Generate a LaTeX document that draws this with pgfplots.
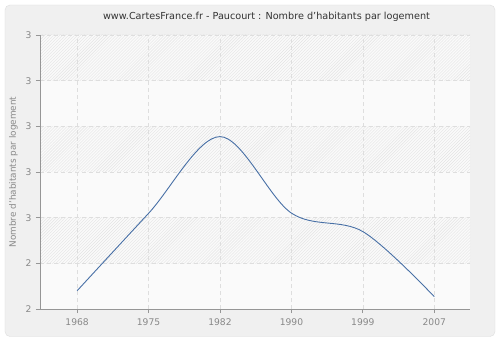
\documentclass[border=0pt]{standalone}
\usepackage{pgfplots}
\pgfplotsset{compat=1.18}
\usepackage{fontspec}
\setmainfont{DejaVu Sans}
\usetikzlibrary{patterns}
\definecolor{panel}{RGB}{240,240,240}
\definecolor{panelborder}{RGB}{222,222,222}
\definecolor{plotbg}{RGB}{250,250,250}
\definecolor{hatch}{RGB}{228,228,228}
\definecolor{gridc}{RGB}{222,222,222}
\definecolor{axisc}{RGB}{150,150,150}
\definecolor{tickc}{RGB}{136,136,136}
\definecolor{linec}{RGB}{72,112,166}
\begin{document}
\begin{tikzpicture}
% background (axis box spans (0,0) to (430bp,274bp))
\fill[white] (-40bp,-31bp) rectangle (460bp,309bp);
\filldraw[fill=panel, draw=panelborder, rounded corners=5bp] (-35bp,-27.5bp) rectangle (455bp,304bp);
\fill[plotbg] (0bp,0bp) rectangle (430bp,274bp);
\foreach \i in {1,3,5} {
  \fill[pattern=north east lines, pattern color=hatch] (0bp,{\i*274/6*1bp}) rectangle (430bp,{(\i+1)*274/6*1bp});
}
\node[text=black!80, font=\fontsize{9.7}{11}\selectfont] at (226.5bp,292bp) {www.CartesFrance.fr - Paucourt : Nombre d'habitants par logement};
\node[text=tickc, rotate=90, font=\fontsize{8.9}{10}\selectfont] at (-26.5bp,137bp) {Nombre d'habitants par logement};
\begin{axis}[
  at={(0,0)}, anchor=south west,
  scale only axis, width=430bp, height=274bp,
  xmin=-0.52, xmax=5.5,
  ymin=2.2, ymax=3.4,
  xtick={0,1,2,3,4,5},
  xticklabels={1968,1975,1982,1990,1999,2007},
  ytick={2.2,2.4,2.6,2.8,3.0,3.2,3.4},
  yticklabels={2,2,3,3,3,3,3},
  axis x line*=bottom, axis y line*=left,
  axis line style={axisc, line width=0.8bp},
  tick style={axisc, line width=0.8bp},
  tick align=outside,
  major tick length=4bp,
  grid=major,
  major grid style={gridc, dash pattern=on 4bp off 3bp, line width=0.7bp},
  tick label style={text=tickc, font=\fontsize{9.2}{10}\selectfont},
  xticklabel style={yshift=-2bp},
  yticklabel style={xshift=-1bp},
]
\addplot[linec, line width=0.9bp, smooth, tension=0.55] coordinates {
  (0,2.280) (1,2.619) (2,2.955) (3,2.620) (4,2.539) (5,2.254)
};
\end{axis}
\end{tikzpicture}
\end{document}
